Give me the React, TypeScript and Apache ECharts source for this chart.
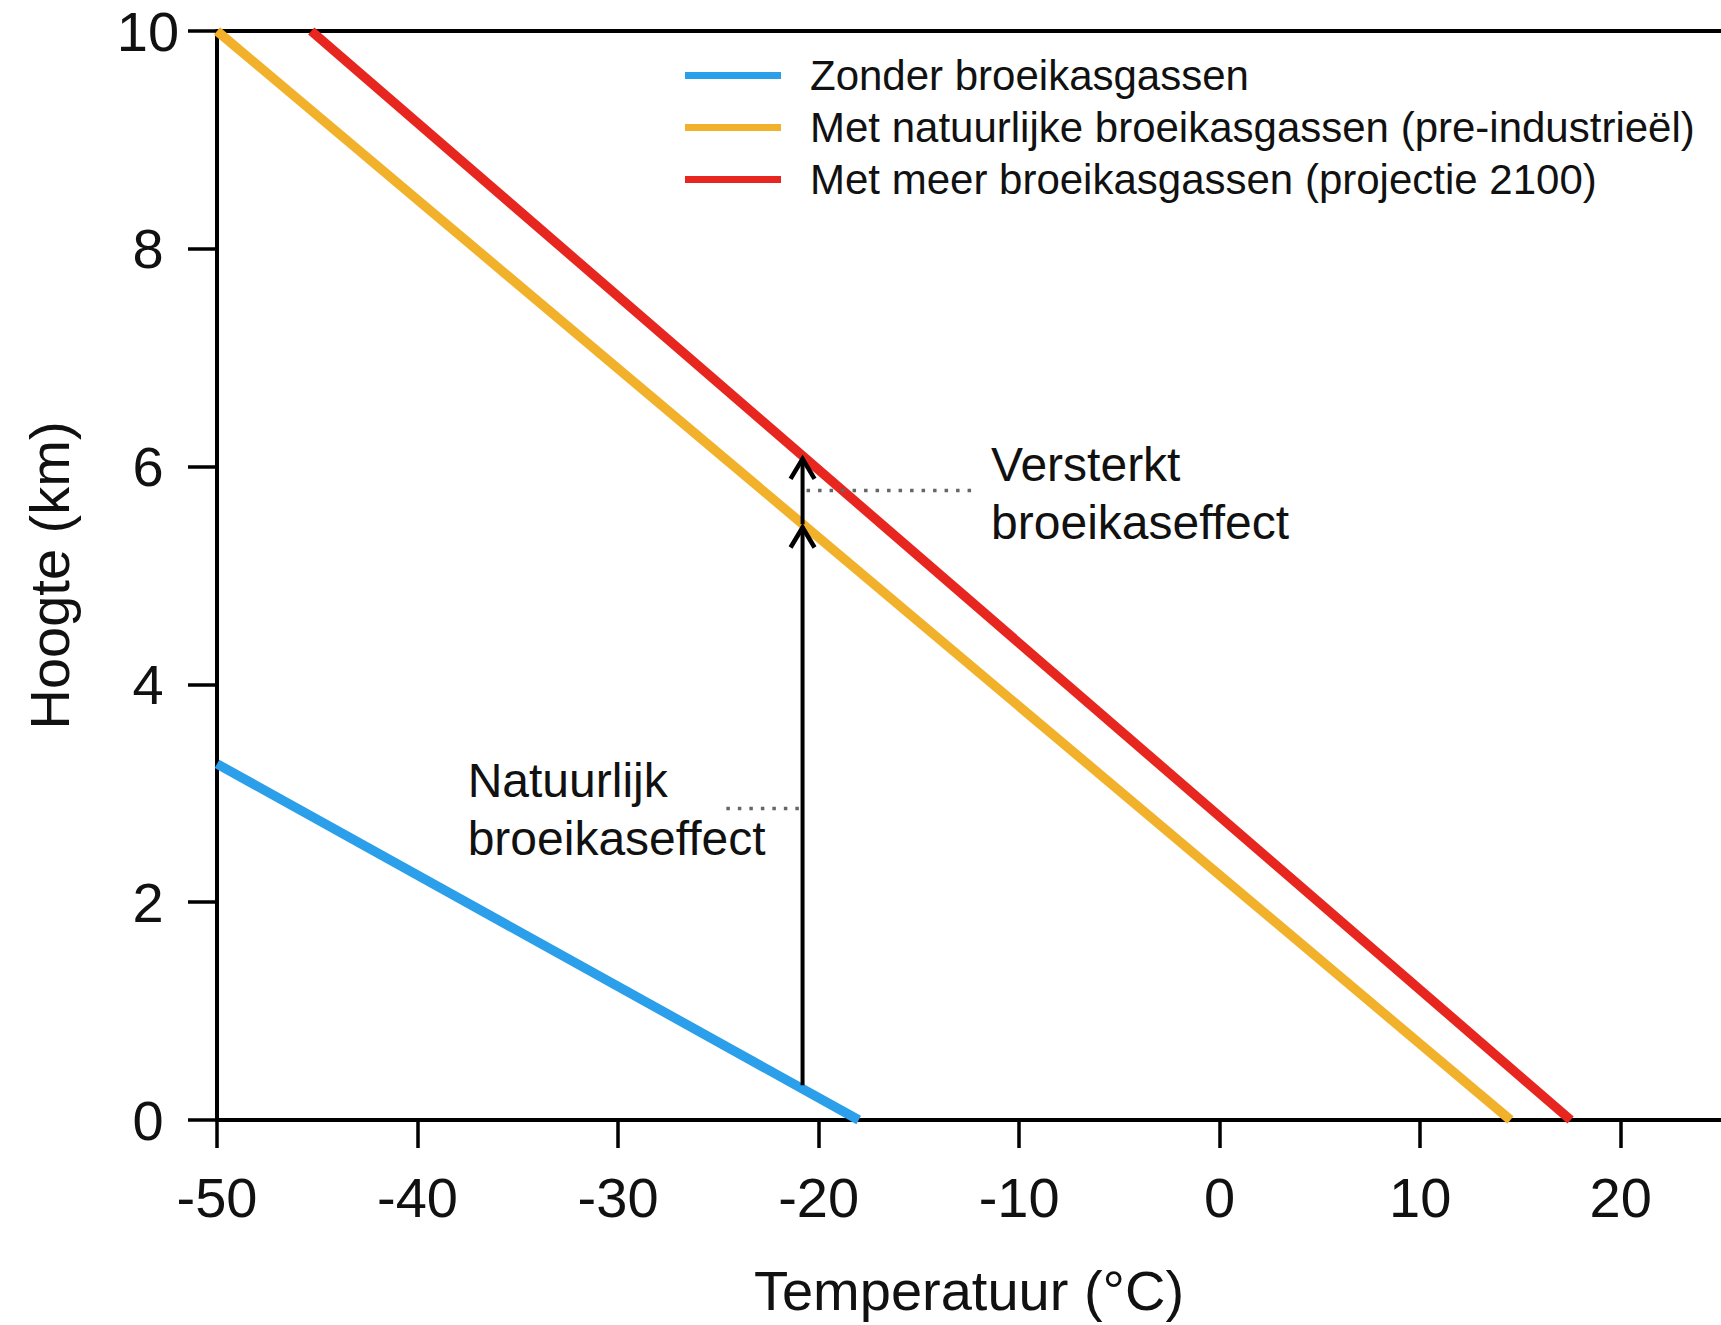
import React, { useEffect, useRef } from "react";
import * as echarts from "echarts";

// ---- data ----
const seriesNames = [
  "Zonder broeikasgassen",
  "Met natuurlijke broeikasgassen (pre-industrieël)",
  "Met meer broeikasgassen (projectie 2100)",
];
const seriesColors = ["#2b9fe9", "#f2b12b", "#e6261f"];

const blueTemps = [-50, -18];
const blueHeights = [3.27, 0];
const orangeTemps = [-50, 14.5];
const orangeHeights = [10, 0];
const redTemps = [-45.3, 17.5];
const redHeights = [10, 0];

// arrows (temperature, from height, to height)
const arrowTemp = -20.8;
const arrowFrom = [0.32, 5.47];
const arrowTo = [5.45, 6.08];

// dotted leader lines
const natDotTemps = [-24.6, -20.8];
const natDotHeight = 2.86;
const verDotTemps = [-20.6, -12.3];
const verDotHeight = 5.78;

// annotations
const annotationTexts = ["Natuurlijk\nbroeikaseffect", "Versterkt\nbroeikaseffect"];
const annotationTemps = [-37.5, -11.4];
const annotationHeights = [2.85, 5.75];

const xName = "Temperatuur (°C)";
const yName = "Hoogte (km)";

const FONT = "'Liberation Sans', Arial, Helvetica, sans-serif";
const INK = "#111";

const zip = (xs: number[], ys: number[]) => xs.map((x, i) => [x, ys[i]]);

export default function App() {
  const ref = useRef<HTMLDivElement>(null);

  useEffect(() => {
    if (!ref.current) return;
    const chart = echarts.init(ref.current, undefined, { renderer: "svg" });

    const lineSeries = [
      zip(blueTemps, blueHeights),
      zip(orangeTemps, orangeHeights),
      zip(redTemps, redHeights),
    ].map((d, i) => ({
      name: seriesNames[i],
      type: "line",
      data: d,
      showSymbol: false,
      symbol: "none",
      lineStyle: { color: seriesColors[i], width: 9.5, cap: "butt" },
      itemStyle: { color: seriesColors[i] },
      z: 3,
    }));

    const dotted = (temps: number[], h: number) => ({
      type: "line",
      data: temps.map((t) => [t, h]),
      symbol: "none",
      lineStyle: { color: "#666", width: 3.5, type: [3.5, 8] },
      z: 4,
      silent: true,
    });

    const option: any = {
      animation: false,
      backgroundColor: "#ffffff",
      textStyle: { fontFamily: FONT },
      grid: { left: 217, top: 31, right: -6, bottom: 205, containLabel: false },
      legend: {
        orient: "vertical",
        left: 680,
        top: 49,
        icon: "rect",
        itemWidth: 96,
        itemHeight: 7,
        itemGap: 9,
        selectedMode: false,
        data: seriesNames,
        textStyle: {
          fontFamily: FONT,
          fontSize: 42,
          color: INK,
          lineHeight: 43,
          padding: [0, 0, 0, 24],
        },
      },
      xAxis: [
        {
          type: "value",
          min: -50,
          max: 25,
          interval: 10,
          name: xName,
          nameLocation: "middle",
          nameGap: 142,
          nameTextStyle: { fontFamily: FONT, fontSize: 56, color: INK },
          axisLine: { show: true, onZero: false, lineStyle: { color: "#000", width: 4 } },
          axisTick: { show: true, inside: false, length: 28, lineStyle: { color: "#000", width: 3.5 } },
          axisLabel: {
            fontFamily: FONT,
            fontSize: 56,
            color: INK,
            margin: 49,
            showMaxLabel: false,
            formatter: (v: number) => (v % 10 === 0 && v <= 20 ? String(v) : ""),
          },
          splitLine: { show: false },
        },
        {
          type: "value",
          position: "top",
          min: -50,
          max: 25,
          axisLine: { show: true, onZero: false, lineStyle: { color: "#000", width: 4 } },
          axisTick: { show: false },
          axisLabel: { show: false },
          splitLine: { show: false },
        },
      ],
      yAxis: {
        type: "value",
        min: 0,
        max: 10,
        interval: 2,
        name: yName,
        nameLocation: "middle",
        nameGap: 140,
        nameRotate: 90,
        nameTextStyle: { fontFamily: FONT, fontSize: 56, color: INK },
        axisLine: { show: true, onZero: false, lineStyle: { color: "#000", width: 4 } },
        axisTick: { show: true, inside: false, length: 29, lineStyle: { color: "#000", width: 3.5 } },
        axisLabel: { fontFamily: FONT, fontSize: 56, color: INK, margin: 69, align: "center" },
        splitLine: { show: false },
      },
      series: [
        ...lineSeries,
        dotted(natDotTemps, natDotHeight),
        dotted(verDotTemps, verDotHeight),
        {
          type: "custom",
          silent: true,
          clip: false,
          z: 5,
          encode: { x: 0, y: [1, 2] },
          data: arrowFrom.map((f, i) => [arrowTemp, f, arrowTo[i]]),
          renderItem: (_params: any, api: any) => {
            const x = api.value(0);
            const a = api.coord([x, api.value(1)]);
            const b = api.coord([x, api.value(2)]);
            return {
              type: "group",
              children: [
                {
                  type: "line",
                  shape: { x1: a[0], y1: a[1], x2: b[0], y2: b[1] },
                  style: { stroke: "#000", lineWidth: 4 },
                },
                {
                  type: "polyline",
                  shape: {
                    points: [
                      [b[0] - 12, b[1] + 21],
                      [b[0], b[1] + 1],
                      [b[0] + 12, b[1] + 21],
                    ],
                  },
                  style: { stroke: "#000", lineWidth: 4.5, fill: null },
                },
              ],
            };
          },
        },
        {
          type: "scatter",
          silent: true,
          symbolSize: 0,
          z: 6,
          itemStyle: { opacity: 1, color: "rgba(0,0,0,0)" },
          data: annotationTexts.map((t, i) => ({
            name: t,
            value: [annotationTemps[i], annotationHeights[i]],
          })),
          label: {
            show: true,
            position: "right",
            distance: 0,
            formatter: (p: any) => p.name,
            fontFamily: FONT,
            fontSize: 48,
            lineHeight: 58,
            color: INK,
            opacity: 1,
            align: "left",
            verticalAlign: "middle",
          },
        },
      ],
    };

    chart.setOption(option);
    return () => chart.dispose();
  }, []);

  return (
    <div
      ref={ref}
      style={{
        position: "absolute",
        left: 0,
        top: 0,
        width: 1721,
        height: 1325,
        overflow: "hidden",
        background: "#fff",
      }}
    />
  );
}
